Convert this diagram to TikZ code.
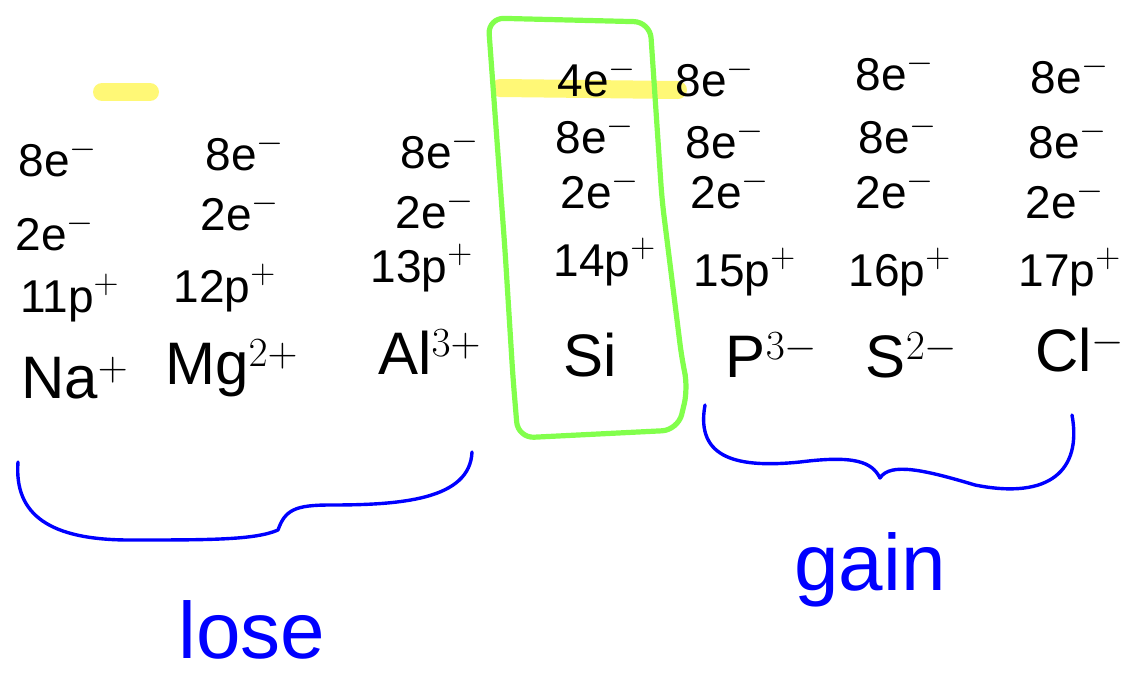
\documentclass[tikz,border=0pt]{standalone}
\usepackage{fontspec}
\setmainfont{Liberation Sans}
\begin{document}
\begin{tikzpicture}[x=0.5pt,y=-0.5pt,
  shell/.style={font=\fontsize{23}{25}\selectfont, inner sep=0pt},
  prot/.style={font=\fontsize{23}{25}\selectfont, inner sep=0pt},
  elem/.style={font=\fontsize{30}{32}\selectfont, inner sep=0pt},
  brace/.style={draw=blue, line width=1.7pt, line cap=round, line join=round},
  bluetext/.style={text=blue, font=\fontsize{40}{42}\selectfont, inner sep=0pt},
  hl/.style={draw=yellow!90!white, line width=9pt, line cap=round, opacity=0.6},
  box/.style={draw=green!60!lime!70!white, line width=2.6pt, rounded corners=8pt}]
\useasboundingbox (0,0) rectangle (1134,676);
% highlights
\draw[hl] (102,92) -- (150,92);
\draw[hl] (500,88) -- (678,90);
% green box
\draw[box] (488,18) -- (650,22) -- (662,200) -- (682,360) -- (688,388) -- (678,430) -- (518,438) -- (513,378) -- (505,250) -- cycle;
% Na
\node[shell] (na8) at (58,158) {8e$^{-}$};
\node[shell] (na2) at (55,232) {2e$^{-}$};
\node[prot] (na11) at (70,298) {11p$^{+}$};
\node[elem] (na) at (75,378) {Na$^{+}$};
% Mg
\node[shell] (mg8) at (245,152) {8e$^{-}$};
\node[shell] (mg2) at (240,212) {2e$^{-}$};
\node[prot] (mg12) at (225,288) {12p$^{+}$};
\node[elem] (mg) at (232,368) {Mg$^{2+}$};
% Al
\node[shell] (al8) at (440,150) {8e$^{-}$};
\node[shell] (al2) at (435,210) {2e$^{-}$};
\node[prot] (al13) at (422,268) {13p$^{+}$};
\node[elem] (al) at (430,352) {Al$^{3+}$};
% Si
\node[shell] (si4) at (597,78) {4e$^{-}$};
\node[shell] (si8) at (595,135) {8e$^{-}$};
\node[shell] (si2) at (600,190) {2e$^{-}$};
\node[prot] (si14) at (605,262) {14p$^{+}$};
\node[elem] (si) at (590,355) {Si};
% P
\node[shell] (p8a) at (715,78) {8e$^{-}$};
\node[shell] (p8) at (725,140) {8e$^{-}$};
\node[shell] (p2) at (730,190) {2e$^{-}$};
\node[prot] (p15) at (745,272) {15p$^{+}$};
\node[elem] (p) at (772,355) {P$^{3-}$};
% S
\node[shell] (s8a) at (895,72) {8e$^{-}$};
\node[shell] (s8) at (898,135) {8e$^{-}$};
\node[shell] (s2) at (895,190) {2e$^{-}$};
\node[prot] (s16) at (900,272) {16p$^{+}$};
\node[elem] (s) at (912,355) {S$^{2-}$};
% Cl
\node[shell] (cl8a) at (1070,75) {8e$^{-}$};
\node[shell] (cl8) at (1068,140) {8e$^{-}$};
\node[shell] (cl2) at (1065,200) {2e$^{-}$};
\node[prot] (cl17) at (1070,272) {17p$^{+}$};
\node[elem] (cl) at (1080,350) {Cl$^{-}$};
% braces
\draw[brace] (18,462) .. controls (14,515) and (50,540) .. (130,540)
  .. controls (210,540) and (255,540) .. (278,530)
  .. controls (285,510) and (295,505) .. (330,505)
  .. controls (400,505) and (470,500) .. (472,452);
\draw[brace] (705,405) .. controls (695,460) and (740,468) .. (800,462)
  .. controls (855,455) and (872,462) .. (880,478)
  .. controls (890,462) and (925,470) .. (975,485)
  .. controls (1050,500) and (1082,470) .. (1072,415);
\node[bluetext] (lose) at (252,630) {lose};
\node[bluetext] (gain) at (870,570) {gain};
\end{tikzpicture}
\end{document}
